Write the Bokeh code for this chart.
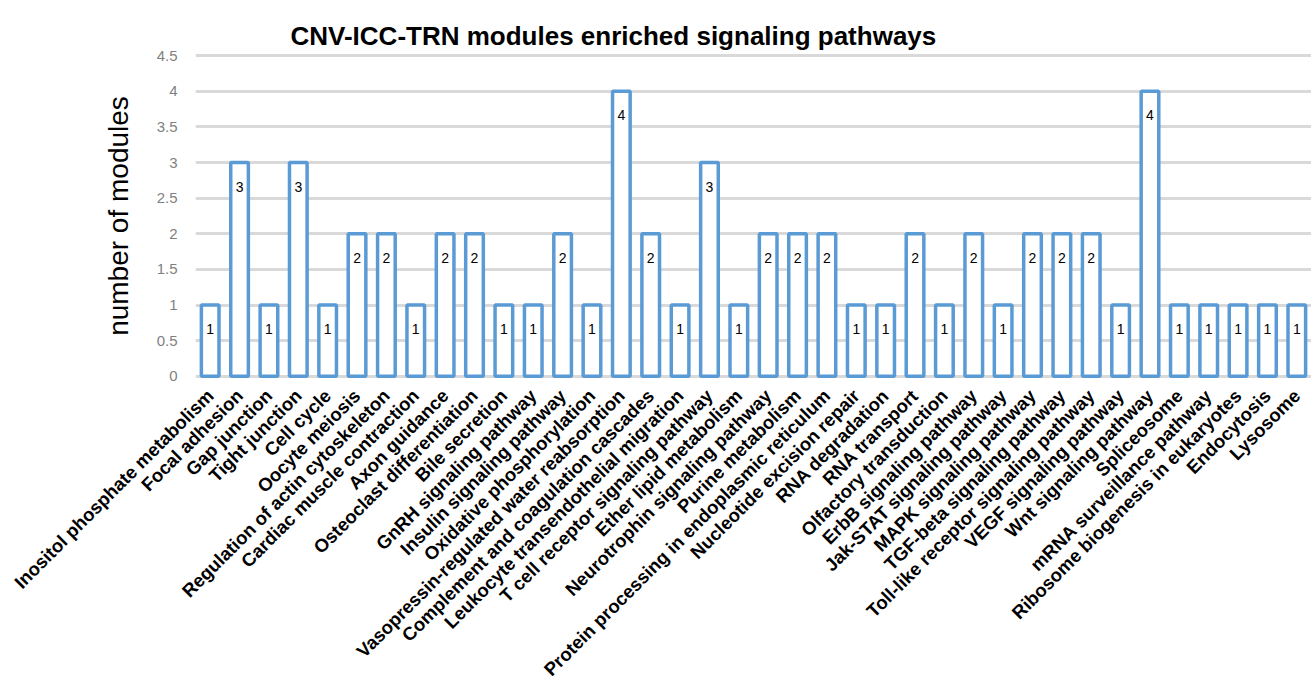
from math import pi

from bokeh.embed import file_html
from bokeh.layouts import column
from bokeh.models import ColumnDataSource, FactorRange, Range1d, FixedTicker, Title
from bokeh.plotting import figure
from bokeh.resources import INLINE

# KEGG pathways enriched among CNV-ICC-TRN modules
pathways = [
    "Inositol phosphate metabolism", "Focal adhesion", "Gap junction", "Tight junction",
    "Cell cycle", "Oocyte meiosis", "Regulation of actin cytoskeleton",
    "Cardiac muscle contraction", "Axon guidance", "Osteoclast differentiation",
    "Bile secretion", "GnRH signaling pathway", "Insulin signaling pathway",
    "Oxidative phosphorylation", "Vasopressin-regulated water reabsorption",
    "Complement and coagulation cascades", "Leukocyte transendothelial migration",
    "T cell receptor signaling pathway", "Ether lipid metabolism",
    "Neurotrophin signaling pathway", "Purine metabolism",
    "Protein processing in endoplasmic reticulum", "Nucleotide excision repair",
    "RNA degradation", "RNA transport", "Olfactory transduction",
    "ErbB signaling pathway", "Jak-STAT signaling pathway", "MAPK signaling pathway",
    "TGF-beta signaling pathway", "Toll-like receptor signaling pathway",
    "VEGF signaling pathway", "Wnt signaling pathway", "Spliceosome",
    "mRNA surveillance pathway", "Ribosome biogenesis in eukaryotes",
    "Endocytosis", "Lysosome",
]
module_counts = [
    1, 3, 1, 3, 1, 2, 2, 1, 2, 2, 1, 1, 2, 1, 4, 2, 1, 3, 1, 2, 2, 2, 1,
    1, 2, 1, 2, 1, 2, 2, 2, 1, 4, 1, 1, 1, 1, 1,
]
y_ticks = [0, 0.5, 1, 1.5, 2, 2.5, 3, 3.5, 4, 4.5]

source = ColumnDataSource(data=dict(
    pathway=pathways,
    count=module_counts,
    label=[str(v) for v in module_counts],
))

# the figure is a little taller than the page: the longest slanted category
# names run past the bottom edge and are cut off by the wrapping column
p = figure(
    x_range=FactorRange(*pathways, range_padding=0),
    y_range=Range1d(-0.03, 4.53),
    width=1311, height=690,
    sizing_mode="fixed",
    output_backend="svg", toolbar_location=None,
    min_border_left=195, min_border_right=0,
    min_border_top=53, min_border_bottom=0,
)
p.x_range.factor_padding = 0

p.title = Title(
    text="CNV-ICC-TRN modules enriched signaling pathways",
    align="left", offset=95, standoff=4, vertical_align="middle",
    text_font="Liberation Sans", text_font_size="26px",
    text_font_style="bold", text_color="#000000",
)

p.vbar(x="pathway", top="count", width=0.6, source=source,
       fill_color="white", line_color="#5b9bd5", line_width=3.5)

p.text(x="pathway", y="count", text="label", source=source,
       text_align="center", text_baseline="middle", y_offset=24,
       text_font_size="14px", text_color="#000000",
       text_font={"value": "Liberation Sans"})

p.yaxis.ticker = FixedTicker(ticks=y_ticks)
p.yaxis.axis_line_color = None
p.yaxis.major_tick_line_color = None
p.yaxis.minor_tick_line_color = None
p.yaxis.major_label_text_font = "Liberation Sans"
p.yaxis.major_label_text_font_size = "15px"
p.yaxis.major_label_text_color = "#7f7f7f"
p.yaxis.major_label_standoff = 12
p.yaxis.axis_label = "number of modules"
p.yaxis.axis_label_text_font = "Liberation Sans"
p.yaxis.axis_label_text_font_size = "28px"
p.yaxis.axis_label_text_font_style = "normal"
p.yaxis.axis_label_text_color = "#000000"
p.yaxis.axis_label_standoff = 20

p.xaxis.axis_line_color = None
p.xaxis.major_tick_line_color = None
p.xaxis.minor_tick_line_color = None
p.xaxis.major_label_orientation = pi / 4
p.xaxis.major_label_text_font = "Liberation Sans"
p.xaxis.major_label_text_font_size = "18.5px"
p.xaxis.major_label_text_font_style = "bold"
p.xaxis.major_label_text_color = "#000000"
p.xaxis.major_label_standoff = 8

p.xgrid.grid_line_color = None
p.ygrid.ticker = FixedTicker(ticks=y_ticks)
p.ygrid.grid_line_color = "#d9d9d9"
p.ygrid.grid_line_width = 3

p.outline_line_color = None
p.background_fill_color = "white"
p.border_fill_color = "white"

page = column(p, width=1311, height=678, sizing_mode="fixed",
              styles={"overflow": "hidden"})

open("out.html", "w").write(file_html(page, INLINE))
